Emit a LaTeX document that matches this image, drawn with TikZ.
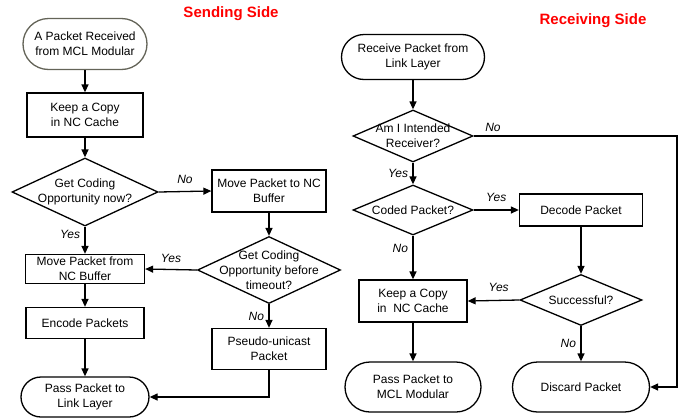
\documentclass[tikz,border=0pt]{standalone}
\usepackage{fontspec}
\setmainfont{Liberation Sans}
\usetikzlibrary{shapes.geometric,arrows.meta}
\definecolor{startgray}{RGB}{100,100,88}
\definecolor{titlered}{RGB}{255,0,0}
\tikzset{
  base/.style={draw=black, line width=1.3pt, fill=white, align=center, font=\fontsize{12}{15}\selectfont, inner sep=1pt},
  procbox/.style={base, rectangle},
  termbox/.style={base, rectangle},
  decbox/.style={base, diamond, inner sep=0pt},
  arr/.style={line width=1.3pt, -{Triangle[length=8pt,width=7pt]}},
  lbl/.style={font=\fontsize{12}{14}\selectfont\itshape},
  ttl/.style={font=\fontsize{15}{18}\selectfont\bfseries, text=titlered}
}
\begin{document}
\begin{tikzpicture}[x=1pt,y=-1pt]
\useasboundingbox (0,0) rectangle (681,418);
% titles
\node[ttl] (t1) at (231,14) {Sending Side};
\node[ttl] (t2) at (593,21) {Receiving Side};
% sending side
\node[termbox, draw=startgray, minimum width=124pt, minimum height=51pt, rounded corners=25.5pt] (s1) at (85,44) {A Packet Received\\from MCL Modular};
\node[procbox, minimum width=116pt, minimum height=44pt] (s2) at (85,115) {Keep a Copy\\in NC Cache};
\node[decbox, minimum width=146pt, minimum height=68pt, label={[align=center,font=\fontsize{12}{15}\selectfont]center:Get Coding\\Opportunity now?}] (d1) at (85,192) {};
\node[procbox, minimum width=114pt, minimum height=42pt] (m1) at (269,191) {Move Packet to NC\\Buffer};
\node[procbox, minimum width=119pt, minimum height=29pt] (mf) at (85,269) {Move Packet from\\NC Buffer};
\node[procbox, minimum width=118pt, minimum height=31pt] (enc) at (85,323) {Encode Packets};
\node[termbox, minimum width=128pt, minimum height=40pt, rounded corners=20pt] (pass) at (85,397) {Pass Packet to\\Link Layer};
\node[decbox, minimum width=143pt, minimum height=67pt, label={[align=center,font=\fontsize{12}{15}\selectfont]center:Get Coding\\Opportunity before\\timeout?}] (d2) at (269,270) {};
\node[procbox, minimum width=114pt, minimum height=41pt] (ps) at (269,349) {Pseudo-unicast\\Packet};
\draw[arr] (s1) -- (s2);
\draw[arr] (s2) -- (d1);
\draw[arr] (d1.east) -- (m1.west) node[lbl, pos=0.5, above=4pt] {No};
\draw[arr] (d1.south) -- (mf.north) node[lbl, pos=0.3, left=1pt] {Yes};
\draw[arr] (m1.south) -- (d2.north);
\draw[arr] (d2.west) -- (mf.east) node[lbl, midway, above=3pt] {Yes};
\draw[arr] (d2.south) -- (ps.north) node[lbl, midway, left=1pt] {No};
\draw[arr] (mf) -- (enc);
\draw[arr] (enc) -- (pass);
\draw[arr] (ps.south) |- (pass.east);
% receiving side
\node[termbox, minimum width=143pt, minimum height=45pt, rounded corners=22.5pt] (r1) at (413,57) {Receive Packet from\\Link Layer};
\node[decbox, minimum width=120pt, minimum height=52pt, label={[align=center,font=\fontsize{12}{15}\selectfont]center:Am I Intended\\Receiver?}] (rd1) at (413,136) {};
\node[decbox, minimum width=120pt, minimum height=50pt, label={[align=center,font=\fontsize{12}{15}\selectfont]center:Coded Packet?}] (cp) at (413,210) {};
\node[procbox, minimum width=123pt, minimum height=32pt] (dec) at (581,210) {Decode Packet};
\node[procbox, minimum width=108pt, minimum height=42pt] (kc) at (413,301) {Keep a Copy\\in\ \ NC Cache};
\node[decbox, minimum width=122pt, minimum height=51pt, label={[align=center,font=\fontsize{12}{15}\selectfont]center:Successful?}] (succ) at (581,300) {};
\node[termbox, minimum width=136pt, minimum height=50pt, rounded corners=25pt] (pm) at (413,387) {Pass Packet to\\MCL Modular};
\node[termbox, minimum width=137pt, minimum height=50pt, rounded corners=25pt] (disc) at (581,387) {Discard Packet};
\coordinate (corner) at (677,136);
\draw[arr] (r1) -- (rd1);
\draw[arr] (rd1.east) -- (corner) |- (disc.east);
\node[lbl] (no1) at (493,127) {No};
\draw[arr] (rd1.south) -- (cp.north) node[lbl, midway, left=1pt] {Yes};
\draw[arr] (cp.east) -- (dec.west) node[lbl, midway, above=4pt] {Yes};
\draw[arr] (cp.south) -- (kc.north) node[lbl, pos=0.3, left=1pt] {No};
\draw[arr] (dec.south) -- (succ.north);
\draw[arr] (succ.west) -- (kc.east) node[lbl, pos=0.4, above=5pt] {Yes};
\draw[arr] (succ.south) -- (disc.north) node[lbl, midway, left=1pt] {No};
\draw[arr] (kc) -- (pm);
\end{tikzpicture}
\end{document}
